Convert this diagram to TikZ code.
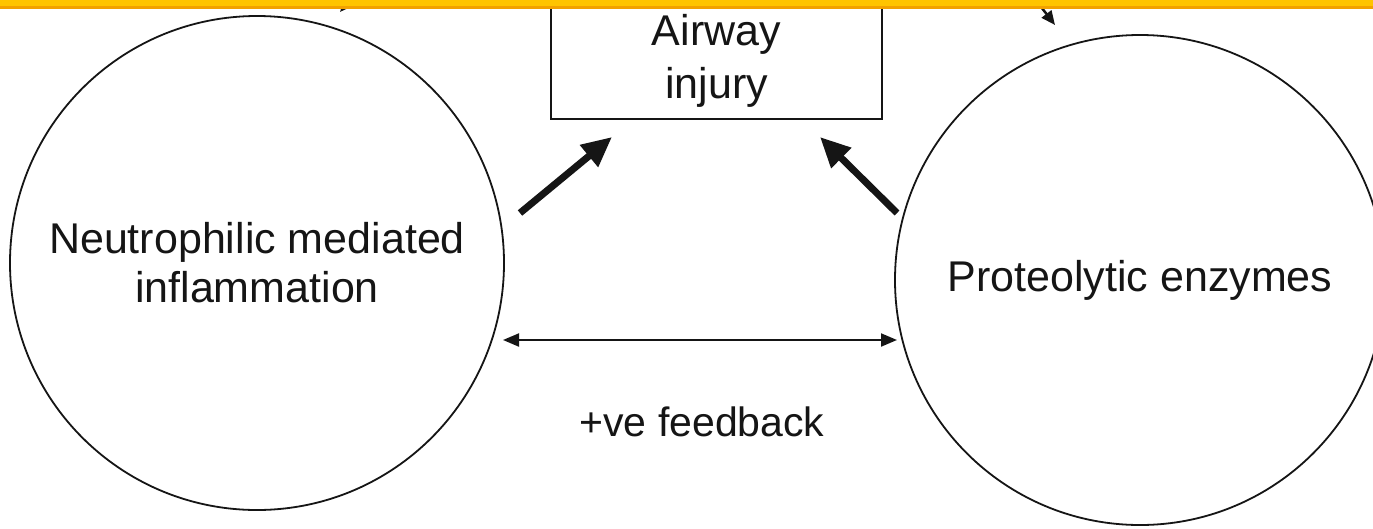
\documentclass[tikz,border=0pt]{standalone}
\usepackage{fontspec}
\setmainfont{Liberation Sans}
\usetikzlibrary{arrows.meta}
\definecolor{barorange}{HTML}{FFC400}
\definecolor{bardark}{HTML}{F2A100}
\definecolor{ink}{HTML}{151515}
\tikzset{
  bubble/.style={circle, draw=ink, line width=1.8pt, inner sep=0pt, align=center,
    font=\fontsize{43}{49}\selectfont, text=ink},
  injbox/.style={rectangle, draw=ink, line width=1.8pt, inner sep=0pt, align=center,
    font=\fontsize{43}{53}\selectfont, text=ink},
  thickarrow/.style={line width=7pt, draw=ink, -{Triangle[length=30pt,width=27pt]}},
  thinarrow/.style={line width=2pt, draw=ink, {Triangle[length=16pt,width=13pt]}-{Triangle[length=16pt,width=13pt]}},
  toparrow/.style={line width=2.5pt, draw=ink, -{Triangle[length=14pt,width=12pt]}},
  lbl/.style={font=\fontsize{41}{45}\selectfont, text=ink}
}
\begin{document}
\begin{tikzpicture}[x=1pt,y=-1pt]
\useasboundingbox (0,0) rectangle (1373,528);
\clip (0,0) rectangle (1373,528);
\fill[white] (0,0) rectangle (1373,528);
% circles and box
\node[bubble, minimum size=494pt] (neu) at (257,263) {Neutrophilic mediated\\inflammation};
\node[bubble, minimum size=490pt] (pro) at (1140,280) {Proteolytic enzymes};
\node[injbox, minimum width=331pt, minimum height=116pt] (inj) at (716.5,61) {Airway\\injury};
\node[lbl] (fb) at (702,422) {+ve feedback};
% arrow end points
\coordinate (a1s) at (520,213);
\coordinate (a1e) at (612,137);
\coordinate (a2s) at (897,213);
\coordinate (a2e) at (820,137);
\coordinate (dl) at (503,340);
\coordinate (dr) at (897,340);
\coordinate (t1s) at (1028,-10);
\coordinate (t1e) at (1055,25);
\coordinate (t2s) at (362,-14);
\coordinate (t2e) at (340,12);
\draw[thickarrow] (a1s) -- (a1e);
\draw[thickarrow] (a2s) -- (a2e);
\draw[thinarrow] (dl) -- (dr);
\draw[toparrow] (t1s) -- (t1e);
\draw[toparrow] (t2s) -- (t2e);
% top bar
\fill[barorange] (0,0) rectangle (1373,7);
\fill[bardark] (0,6) rectangle (1373,8.5);
\end{tikzpicture}
\end{document}
